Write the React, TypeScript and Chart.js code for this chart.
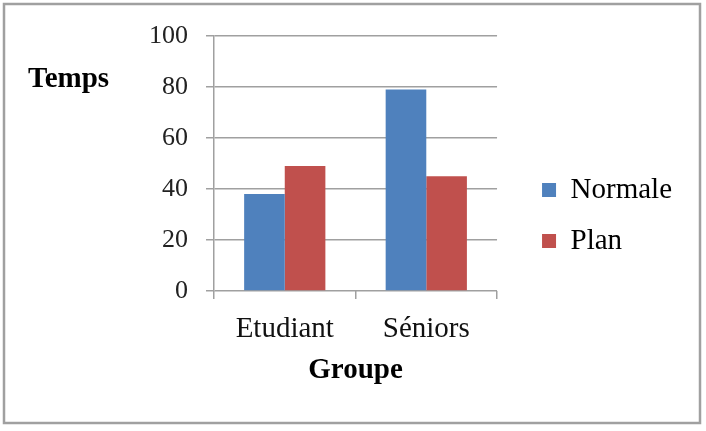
import React, { useEffect, useRef } from "react";
import { Chart, registerables } from "chart.js";

Chart.register(...registerables);

// ---- data ----
const categories = ["Etudiant", "Séniors"];
const seriesNames = ["Normale", "Plan"];
const normaleValues = [38, 79];
const planValues = [49, 45];
const yMin = 0;
const yMax = 100;
const yStep = 20;
const xTitle = "Groupe";
const yTitle = "Temps";

const seriesColors = ["#4F81BD", "#C0504D"];
const FONT = '"Liberation Serif", "Times New Roman", serif';
const gridColor = "#a0a0a0";

const decorPlugin = {
  id: "decor",
  afterDraw(chart: any) {
    const ctx = chart.ctx;
    ctx.save();
    // outer frame
    ctx.strokeStyle = "#a0a0a0";
    ctx.lineWidth = 2.5;
    ctx.strokeRect(4, 4, 696, 419);
    // horizontal y-axis title
    ctx.font = `bold 29px ${FONT}`;
    ctx.fillStyle = "#000";
    ctx.textAlign = "left";
    ctx.textBaseline = "alphabetic";
    ctx.fillText(yTitle, 28, 87);
    ctx.restore();
  },
};

export default function App() {
  const canvasRef = useRef<HTMLCanvasElement | null>(null);

  useEffect(() => {
    if (!canvasRef.current) return;
    const chart = new Chart(canvasRef.current, {
      type: "bar",
      data: {
        labels: categories,
        datasets: [
          {
            label: seriesNames[0],
            data: normaleValues,
            backgroundColor: seriesColors[0],
            borderColor: seriesColors[0],
            borderWidth: 0,
            xAxisID: "x",
            yAxisID: "y",
          },
          {
            label: seriesNames[1],
            data: planValues,
            backgroundColor: seriesColors[1],
            borderColor: seriesColors[1],
            borderWidth: 0,
            xAxisID: "x",
            yAxisID: "y",
          },
        ],
      },
      options: {
        responsive: false,
        animation: false,
        devicePixelRatio: 1,
        layout: { padding: { left: 0, top: 0, right: 24, bottom: 0 } },
        datasets: {
          bar: { categoryPercentage: 0.574, barPercentage: 1 },
        },
        plugins: {
          legend: {
            display: true,
            position: "right",
            align: "center",
            maxWidth: 300,
            labels: {
              boxWidth: 14,
              boxHeight: 14,
              padding: 22,
              color: "#000",
              font: { family: FONT, size: 29 },
            },
          },
          tooltip: { enabled: false },
          title: { display: false },
        },
        scales: {
          x: {
            type: "category",
            position: "bottom",
            afterFit: (s: any) => {
              s.height = 140;
            },
            grid: {
              display: true,
              drawOnChartArea: false,
              drawTicks: true,
              tickLength: 8,
              color: gridColor,
              lineWidth: 1.5,
              offset: true,
            },
            border: { display: false },
            ticks: {
              color: "#111",
              padding: 13,
              font: { family: FONT, size: 29 },
            },
            title: {
              display: true,
              text: xTitle,
              color: "#000",
              font: { family: FONT, size: 29, weight: "bold" },
              padding: { top: 0, bottom: 43 },
            },
          },
          y: {
            type: "linear",
            position: "left",
            min: yMin,
            max: yMax,
            afterFit: (s: any) => {
              s.width = 214;
            },
            grid: {
              color: gridColor,
              lineWidth: 1.5,
              tickLength: 8,
              drawTicks: true,
            },
            border: { display: true, color: gridColor, width: 1.5 },
            ticks: {
              stepSize: yStep,
              padding: 18,
              color: "#222",
              font: { family: FONT, size: 26 },
            },
          },
          topSpacer: {
            type: "category",
            position: "top",
            display: true,
            afterFit: (s: any) => {
              s.height = 36;
            },
            grid: { display: false, drawTicks: false },
            border: { display: false },
            ticks: { display: false },
          },
          rightSpacer: {
            type: "linear",
            position: "right",
            display: true,
            afterFit: (s: any) => {
              s.width = 23;
            },
            grid: { display: false, drawTicks: false },
            border: { display: false },
            ticks: { display: false },
          },
        },
      },
      plugins: [decorPlugin],
    } as any);
    return () => chart.destroy();
  }, []);

  return (
    <div style={{ position: "absolute", left: 0, top: 0, width: 706, height: 431, background: "#fff" }}>
      <canvas ref={canvasRef} width={706} height={431} style={{ display: "block", width: 706, height: 431 }} />
    </div>
  );
}
